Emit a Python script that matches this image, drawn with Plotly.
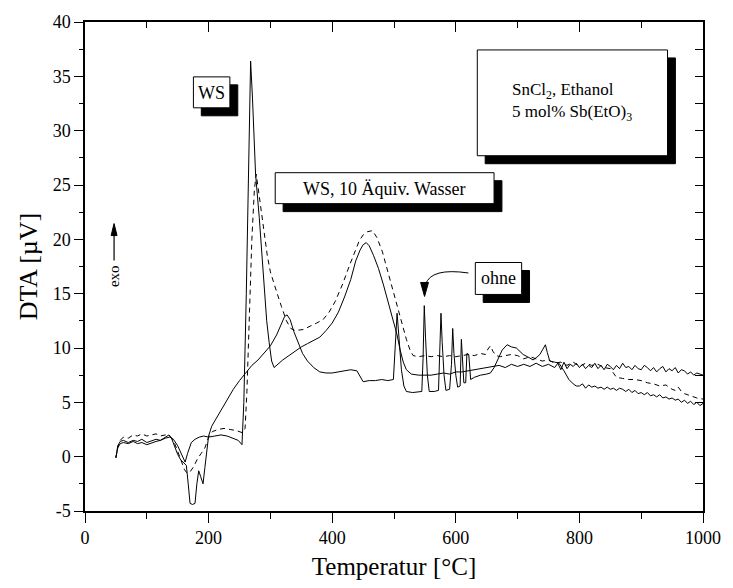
import plotly.graph_objects as go

# ---------------- data ----------------
ws_x = [50, 53, 57, 62, 70, 78, 85, 92, 100, 108, 115, 122, 130, 137, 143, 150, 156, 162, 166, 172,
        178, 185, 192, 200, 210, 220, 230, 240, 248, 254, 257, 261, 265, 268, 271, 276, 282, 288, 294, 298,
        302, 306, 312, 320, 330, 340, 350, 360, 370, 380, 390, 400, 410, 420, 430, 438, 445, 450, 455, 460,
        467, 475, 483, 491, 498, 505, 510, 515, 520, 528, 540, 550, 560, 570, 580, 590, 600, 610, 620, 630,
        640, 650, 660, 670, 680, 690, 700, 710, 720, 730, 740, 750, 760, 765, 770, 775, 780, 785, 790, 795,
        800, 805, 810, 815, 820, 825, 830, 835, 840, 845, 850, 855, 860, 865, 870, 875, 880, 885, 890, 895,
        900, 905, 910, 915, 920, 925, 930, 935, 940, 945, 950, 955, 960, 965, 970, 975, 980, 985, 990, 995, 1000]
ws_y = [-0.1, 1.0, 1.4, 1.5, 1.3, 1.5, 1.4, 1.6, 1.3, 1.5, 1.6, 1.5, 1.7, 1.8, 1.6, 1.0, 0.2, -0.5, 0.3, 1.3,
        1.6, 1.8, 1.9, 1.8, 1.9, 2.0, 1.9, 1.7, 1.5, 1.1, 5.0, 15.0, 27.0, 36.4, 33.0, 26.0, 22.0, 17.0, 12.5, 10.5,
        8.8, 8.2, 8.5, 8.9, 9.3, 9.7, 10.1, 10.4, 10.7, 11.0, 11.6, 12.3, 13.3, 14.7, 16.3, 18.0, 19.0, 19.5, 19.7, 19.4,
        18.5, 17.3, 15.8, 14.2, 12.8, 11.2, 9.8, 8.7, 8.0, 7.6, 7.5, 7.5, 7.5, 7.6, 7.7, 7.6, 7.8, 7.8, 7.9, 8.0,
        8.1, 8.2, 8.3, 8.4, 8.2, 8.5, 8.3, 8.5, 8.3, 8.6, 8.3, 8.5, 8.2, 8.6, 8.0, 8.7, 8.1, 8.5, 8.3, 8.6,
        8.2, 8.5, 8.1, 8.4, 8.2, 8.6, 8.1, 8.4, 8.0, 8.5, 8.3, 8.0, 8.4, 8.1, 8.6, 8.2, 8.3, 8.0, 8.4, 8.1,
        8.0, 8.4, 8.2, 7.9, 8.2, 7.8, 8.1, 8.3, 7.8, 8.1, 7.9, 8.2, 7.7, 8.0, 7.9, 7.6, 7.8, 7.5, 7.7, 7.6, 7.5]

ohne_x = [50, 53, 57, 62, 70, 78, 85, 92, 100, 108, 115, 122, 130, 136, 140, 145, 150, 155, 160, 164,
          167, 170, 174, 178, 181, 184, 187, 191, 194, 197, 200, 205, 210, 220, 230, 240, 250, 260, 270, 280,
          290, 300, 310, 318, 323, 327, 332, 338, 345, 352, 360, 370, 380, 390, 400, 410, 420, 430, 440, 445,
          450, 460, 470, 480, 490, 499, 502, 505, 508, 512, 516, 520, 530, 540, 545, 547, 549, 551, 554, 557,
          565, 572, 574, 576, 578, 581, 584, 590, 593, 595, 597, 600, 603, 607, 609, 611, 613, 616, 618, 621,
          624, 630, 640, 650, 656, 662, 668, 675, 683, 690, 698, 704, 709, 716, 725, 730, 736, 741, 745, 748,
          752, 760, 767, 775, 783, 790, 795, 800, 805, 810, 815, 820, 825, 830, 835, 840, 845, 850, 855, 860,
          865, 870, 875, 880, 885, 890, 895, 900, 905, 910, 915, 920, 925, 930, 935, 940, 945, 950, 955, 960,
          965, 970, 975, 980, 985, 990, 995, 1000]
ohne_y = [-0.1, 0.8, 1.2, 1.3, 1.2, 1.4, 1.2, 1.3, 1.1, 1.3, 1.4, 1.5, 1.8, 2.0, 1.7, 1.0, 0.2, -0.3, -0.6, -0.8,
          -2.5, -4.3, -4.4, -4.3, -2.5, -1.3, -1.8, -2.5, -1.0, 0.8, 1.9, 2.8, 3.3, 4.3, 5.2, 6.2, 7.0, 7.7, 8.4, 8.9,
          9.5, 10.2, 11.2, 12.3, 12.9, 13.05, 12.6, 11.5, 10.4, 9.5, 8.8, 8.2, 7.8, 7.7, 7.7, 7.8, 7.9, 8.0, 7.9, 7.4,
          6.9, 7.0, 7.0, 7.1, 7.0, 7.1, 10.0, 13.2, 11.0, 8.0, 6.5, 6.0, 5.9, 6.0, 6.0, 9.0, 13.9, 11.0, 7.5, 6.0,
          6.0, 6.1, 9.0, 13.2, 10.5, 7.5, 6.1, 6.2, 8.5, 11.8, 9.5, 7.5, 6.4, 6.5, 10.8, 9.0, 6.8, 6.8, 9.5, 9.4,
          7.1, 7.3, 7.5, 7.6, 7.7, 8.2, 9.0, 9.8, 10.3, 10.1, 10.0, 9.7, 9.4, 9.2, 8.9, 9.1, 9.4, 9.9, 10.3, 9.6,
          8.8, 8.7, 8.6, 7.9, 7.1, 6.7, 6.5, 6.5, 6.7, 6.3, 6.6, 6.4, 6.5, 6.3, 6.4, 6.2, 6.4, 6.2, 6.3, 6.1,
          6.3, 6.2, 6.0, 6.2, 5.9, 6.1, 5.8, 5.9, 5.7, 5.9, 5.6, 5.7, 5.5, 5.7, 5.4, 5.5, 5.3, 5.4, 5.2, 5.3,
          5.0, 5.2, 4.9, 5.1, 4.8, 5.0, 4.7, 4.9]

wasser_x = [50, 53, 57, 62, 70, 78, 85, 92, 100, 108, 115, 122, 130, 137, 143, 150, 156, 161, 165, 170,
            176, 182, 188, 194, 200, 206, 215, 225, 235, 245, 255, 259, 262, 265, 270, 274, 277, 280, 284, 290,
            295, 300, 305, 311, 318, 326, 333, 340, 353, 365, 375, 385, 395, 405, 417, 428, 437, 444, 450, 457,
            465, 472, 481, 489, 497, 505, 513, 520, 526, 531, 540, 550, 560, 570, 580, 590, 600, 610, 620, 630,
            640, 648, 652, 656, 660, 665, 672, 680, 690, 700, 710, 720, 730, 740, 750, 760, 770, 780, 790, 800,
            810, 820, 830, 840, 850, 860, 870, 880, 890, 900, 910, 920, 930, 940, 950, 955, 960, 965, 970, 980,
            990, 1000]
wasser_y = [-0.1, 0.9, 1.5, 1.8, 1.7, 2.0, 1.9, 2.1, 1.9, 2.0, 2.1, 1.9, 2.0, 1.9, 1.5, 0.5, -0.4, -1.2, -1.5, -1.4,
            -0.9, -0.2, 0.3, 0.8, 1.8, 2.3, 2.5, 2.6, 2.5, 2.4, 2.2, 2.6, 6.0, 12.0, 20.0, 24.5, 26.0, 24.8, 23.0, 20.5,
            18.5, 17.0, 16.0, 15.0, 13.8, 12.5, 11.8, 11.6, 11.7, 12.0, 12.3, 12.6, 13.3, 14.3, 15.9, 17.6, 19.0, 19.9, 20.4, 20.7,
            20.8, 20.2, 18.9, 17.2, 15.5, 13.8, 12.2, 10.8, 9.8, 9.3, 9.2, 9.3, 9.2, 9.3, 9.2, 9.3, 9.2, 9.3, 9.4, 9.3,
            9.5, 9.4, 9.9, 10.2, 9.7, 9.3, 9.2, 9.3, 9.4, 9.3, 9.0, 9.2, 9.0, 8.8, 8.9, 8.6, 8.7, 8.4, 8.7, 8.3,
            8.6, 8.4, 8.5, 8.2, 8.1, 7.3, 7.2, 7.1, 7.1, 7.0, 6.8, 6.7, 6.5, 6.6, 6.2, 6.1, 6.4, 6.0, 5.8, 5.6,
            5.4, 5.3]

x_tickvals = [0, 200, 400, 600, 800, 1000]
x_ticktext = ["0", "200", "400", "600", "800", "1000"]
y_tickvals = [-5, 0, 5, 10, 15, 20, 25, 30, 35, 40]
y_ticktext = ["-5", "0", "5", "10", "15", "20", "25", "30", "35", "40"]

FONT = "Liberation Serif"

# ---------------- figure ----------------
fig = go.Figure()
fig.add_trace(go.Scatter(x=ws_x, y=ws_y, mode="lines", name="WS",
                         line=dict(color="black", width=1)))
fig.add_trace(go.Scatter(x=wasser_x, y=wasser_y, mode="lines", name="WS, 10 Äquiv. Wasser",
                         line=dict(color="black", width=1, dash="5px,4px")))
# the "ohne" curve is drawn on the mirrored (top/right) axes, which share the same ranges
fig.add_trace(go.Scatter(x=ohne_x, y=ohne_y, mode="lines", name="ohne",
                         xaxis="x2", yaxis="y2",
                         line=dict(color="black", width=1)))

# plot-area geometry in pixels (for annotation placement)
L, T, W, H = 85, 22, 627, 490


def px(x):
    return (x - L) / W


def py(y):
    return (T + H - y) / H


shapes = []
annotations = []


def box(x0, y0, x1, y1, off=8):
    shapes.append(dict(type="rect", xref="paper", yref="paper", layer="above",
                       x0=px(x0 + off), x1=px(x1 + off), y0=py(y1 + off), y1=py(y0 + off),
                       fillcolor="black", line=dict(color="black", width=1)))
    shapes.append(dict(type="rect", xref="paper", yref="paper", layer="above",
                       x0=px(x0), x1=px(x1), y0=py(y1), y1=py(y0),
                       fillcolor="white", line=dict(color="black", width=1)))


box(195, 77, 232, 108)
box(278, 173, 500, 204)
box(483, 50, 676, 156)
box(481, 263, 528, 295)

tf = dict(family=FONT, size=18, color="black")
annotations.append(dict(text="WS", x=px(213.5), y=py(93), xref="paper", yref="paper",
                        showarrow=False, font=tf, xanchor="center", yanchor="middle"))
annotations.append(dict(text="WS, 10 Äquiv. Wasser", x=px(389), y=py(189), xref="paper", yref="paper",
                        showarrow=False, font=tf, xanchor="center", yanchor="middle"))
annotations.append(dict(text="SnCl<sub>2</sub>, Ethanol<br>5 mol% Sb(EtO)<sub>3</sub>",
                        x=px(516), y=py(102), xref="paper", yref="paper", align="left",
                        showarrow=False, font=dict(family=FONT, size=17, color="black"),
                        xanchor="left", yanchor="middle"))
annotations.append(dict(text="ohne", x=px(504.5), y=py(279), xref="paper", yref="paper",
                        showarrow=False, font=tf, xanchor="center", yanchor="middle"))

# exo label + upward arrow
annotations.append(dict(text="exo", x=px(115), y=py(277), xref="paper", yref="paper", textangle=-90,
                        showarrow=False, font=dict(family=FONT, size=15, color="black"),
                        xanchor="center", yanchor="middle"))
shapes.append(dict(type="line", xref="paper", yref="paper", layer="above",
                   x0=px(114.5), x1=px(114.5), y0=py(261), y1=py(234),
                   line=dict(color="black", width=1.2)))
shapes.append(dict(type="path", xref="paper", yref="paper", layer="above",
                   path=f"M {px(111.5)},{py(236)} L {px(117.5)},{py(236)} L {px(114.5)},{py(224)} Z",
                   fillcolor="black", line=dict(color="black", width=1)))

# curved arrow pointing to the "ohne" peak
shapes.append(dict(type="path", xref="paper", yref="paper", layer="above",
                   path=f"M {px(474)},{py(273.5)} Q {px(436)},{py(268)} {px(430.5)},{py(285)}",
                   line=dict(color="black", width=1)))
shapes.append(dict(type="path", xref="paper", yref="paper", layer="above",
                   path=f"M {px(425.5)},{py(283)} L {px(433.5)},{py(283)} L {px(429.5)},{py(297)} Z",
                   fillcolor="black", line=dict(color="black", width=1)))

axis_common = dict(showgrid=False, zeroline=False, showline=True, linecolor="black", linewidth=1.5,
                   tickcolor="black", tickwidth=1.2)

fig.update_layout(
    width=733, height=588,
    margin=dict(l=L, r=733 - L - W, t=T, b=588 - T - H),
    paper_bgcolor="white", plot_bgcolor="white",
    showlegend=False,
    font=dict(family=FONT, color="black"),
    xaxis=dict(range=[0, 1000], tickvals=x_tickvals, ticktext=x_ticktext, ticks="outside", ticklen=10,
               minor=dict(dtick=100, ticks="outside", ticklen=6, tickcolor="black", tickwidth=1.2),
               tickfont=dict(family=FONT, size=18, color="black"),
               title=dict(text="Temperatur [°C]", font=dict(family=FONT, size=25, color="black"), standoff=10),
               **axis_common),
    yaxis=dict(range=[-5, 40], tickvals=y_tickvals, ticktext=y_ticktext, ticks="outside", ticklen=9,
               minor=dict(dtick=2.5, ticks="outside", ticklen=4, tickcolor="black", tickwidth=1.2),
               tickfont=dict(family=FONT, size=18, color="black"),
               title=dict(text="DTA [µV]", font=dict(family=FONT, size=26, color="black"), standoff=8),
               **axis_common),
    xaxis2=dict(range=[0, 1000], overlaying="x", side="top", anchor="y2", dtick=200, tick0=0,
                ticks="inside", ticklen=10, showticklabels=False,
                minor=dict(dtick=100, ticks="inside", ticklen=6, tickcolor="black", tickwidth=1.2),
                **axis_common),
    yaxis2=dict(range=[-5, 40], overlaying="y", side="right", anchor="x2", dtick=2.5, tick0=0,
                ticks="inside", ticklen=8, showticklabels=False,
                **axis_common),
    shapes=shapes,
    annotations=annotations,
)

fig.write_html("out.html")
